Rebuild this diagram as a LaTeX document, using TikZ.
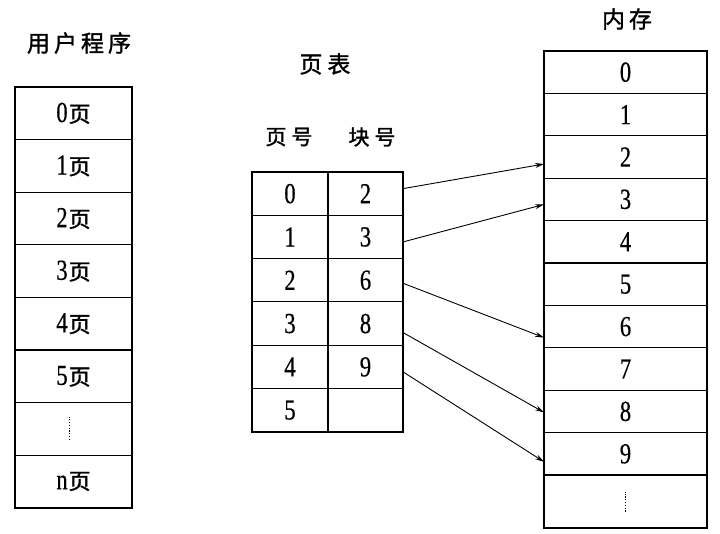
\documentclass[tikz,border=0pt]{standalone}
\usepackage{fontspec}
\setmainfont{Liberation Serif}
\newfontfamily\dig[FakeStretch=0.78,FakeBold=0.5]{Liberation Serif}
\newfontfamily\cjk[FakeBold=1.4]{Noto Sans CJK SC}
\usetikzlibrary{arrows.meta}
\tikzset{
  cell/.style={draw, line width=1.2pt, inner sep=0pt, outer sep=0pt, anchor=north west, font=\dig\fontsize{29}{29}\selectfont},
  ucell/.style={cell, minimum width=117pt, minimum height=52.6pt},
  pcell/.style={cell, minimum width=76pt, minimum height=43.3pt},
  bcell/.style={cell, minimum width=75pt, minimum height=43.3pt},
  mcell/.style={cell, minimum width=163pt, minimum height=42.4pt},
  frame/.style={draw, line width=2pt},
  title/.style={font=\cjk\fontsize{23}{23}\selectfont},
  link/.style={line width=0.9pt, -{Stealth[length=9pt,width=5pt]}},
  vdots/.style={line width=1.3pt, dash pattern=on 1.2pt off 1.6pt}
}
\newcommand{\ye}{\hspace{1pt}{\cjk\fontsize{22}{22}\selectfont 页}}
\begin{document}
\begin{tikzpicture}[x=1pt,y=-1pt]
\useasboundingbox[fill=white] (0,0) rectangle (720,534);

% titles
\node[title] (tuser) at (79,43) {用\hspace{4pt}户\hspace{4pt}程\hspace{4pt}序};
\node[title] (tpt) at (325,64) {页\hspace{5pt}表};
\node[title, font=\cjk\fontsize{21}{21}\selectfont] (tpn) at (289,137) {页\hspace{5pt}号};
\node[title, font=\cjk\fontsize{21}{21}\selectfont] (tbn) at (372,137) {块\hspace{5pt}号};
\node[title] (tmem) at (627,19) {内\hspace{4pt}存};

% user program
\foreach \i/\t in {0/0,1/1,2/2,3/3,4/4,5/5,6/{},7/n}{
  \node[ucell] (u\i) at (15,{87+52.6*\i}) {\t\ifx\t\empty\else\ye\fi};
}
\draw[vdots] ([yshift=-11pt,xshift=-4pt]u6.center) -- ([yshift=12pt,xshift=-4pt]u6.center);
\draw[frame] (u0.north west) rectangle (u7.south east);

% page table
\foreach \i/\b in {0/2,1/3,2/6,3/8,4/9,5/{}}{
  \node[pcell] (p\i) at (252,{172+43.3*\i}) {\i};
  \node[bcell] (b\i) at (328,{172+43.3*\i}) {\b};
}
\draw[frame] (p0.north west) rectangle (b5.south east);

% memory
\foreach \i in {0,...,9}{
  \node[mcell] (m\i) at (544,{51+42.4*\i}) {\i};
}
\node[mcell, minimum height=53pt] (m10) at (544,475) {};
\draw[vdots] ([yshift=-10pt]m10.center) -- ([yshift=10pt]m10.center);
\draw[frame] (m0.north west) rectangle (m10.south east);

% links
\draw[link] ([yshift=5pt]b0.east) -- ([yshift=-7pt]m2.west);
\draw[link] ([yshift=-5pt]b1.east) -- ([yshift=-5pt]m3.west);
\draw[link] ([yshift=-3pt]b2.east) -- ([yshift=-11pt]m6.west);
\draw[link] ([yshift=-9pt]b3.east) -- ([yshift=-1pt]m8.west);
\draw[link] ([yshift=-5pt]b4.east) -- ([yshift=-8pt]m9.west);
\end{tikzpicture}
\end{document}
